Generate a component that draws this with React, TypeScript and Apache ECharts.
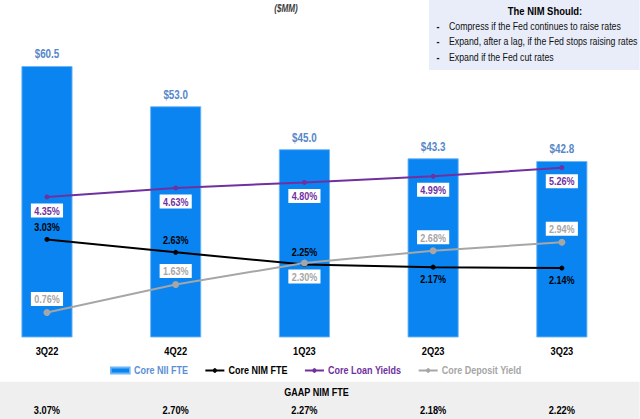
import React, { useEffect, useRef } from "react";
import * as echarts from "echarts";

const categories = ["3Q22", "4Q22", "1Q23", "2Q23", "3Q23"];
const coreNII = [60.5, 53.0, 45.0, 43.3, 42.8];
const coreNIM = [3.03, 2.63, 2.25, 2.17, 2.14];
const loanYields = [4.35, 4.63, 4.8, 4.99, 5.26];
const depositYield = [0.76, 1.63, 2.3, 2.68, 2.94];
const gaapNIM = ["3.07%", "2.70%", "2.27%", "2.18%", "2.22%"];
const nimLabelPos = ["top", "top", "top", "bottom", "bottom"];
const depositLabelPos = ["top", "top", "bottom", "top", "top"];
const nimBullets = [
  "Compress if the Fed continues to raise rates",
  "Expand, after a lag, if the Fed stops raising rates",
  "Expand if the Fed cut rates",
];

// Arial-Narrow look: render in a wider canvas and squeeze horizontally.
const S = 0.82;
const W = 640 / S;
const X = (x: number) => x / S;

const F = "'Liberation Sans', Arial, sans-serif";
const BAR = "#0a84f0";
const PURPLE = "#7030a0";
const GRAY = "#a6a6a6";
const XMIN = -0.3649;
const XMAX = 4.604;
const idx = categories.map((_, i) => i);

export default function App() {
  const ref = useRef<HTMLDivElement>(null);
  useEffect(() => {
    if (!ref.current) return;
    const chart = echarts.init(ref.current, undefined, { renderer: "svg" });
    const boxLabel = (color: string) => ({
      show: true,
      color,
      fontFamily: F,
      fontSize: 11,
      fontWeight: "bold",
      backgroundColor: "#ffffff",
      padding: [2, 4, 1, 4],
      formatter: (p: any) => p.value[1].toFixed(2) + "%",
    });
    const catAxis = (labels: string[], offset: number, margin: number) => ({
      type: "value",
      min: XMIN,
      max: XMAX,
      offset,
      position: "bottom",
      splitLine: { show: false },
      axisLine: { show: false },
      axisTick: { show: false },
      axisLabel: {
        customValues: idx,
        formatter: (v: number) => labels[Math.round(v)],
        color: "#000",
        fontFamily: F,
        fontSize: 11.3,
        fontWeight: "bold",
        margin,
      },
    });
    chart.setOption({
      animation: false,
      textStyle: { fontFamily: F },
      grid: { left: 0, right: 0, top: 15, bottom: 82 },
      xAxis: [catAxis(categories, 0, 9), catAxis(gaapNIM, 60, 8)],
      yAxis: [
        { type: "value", min: 10, max: 70, show: false },
        { type: "value", min: 0, max: 10, show: false },
      ],
      legend: {
        left: X(110),
        top: 365,
        padding: 0,
        itemWidth: X(19),
        itemHeight: 6,
        itemGap: X(16.5),
        textStyle: { fontFamily: F, fontSize: 11, fontWeight: "bold" },
        data: [
          { name: "Core NII FTE", icon: "rect", textStyle: { color: "#5b8fd6" } },
          { name: "Core NIM FTE", textStyle: { color: "#000" } },
          { name: "Core Loan Yields", textStyle: { color: PURPLE } },
          { name: "Core Deposit Yield", textStyle: { color: GRAY } },
        ],
      },
      graphic: [
        { type: "rect", z: -10, shape: { x: 0, y: 381.7, width: W, height: 38 }, style: { fill: "#efefef" } },
        { type: "rect", z: -10, shape: { x: X(429), y: 0, width: X(211), height: 70 }, style: { fill: "#e8edf9" } },
        {
          type: "text", x: X(545), y: 11,
          style: { text: "The NIM Should:", font: `bold 11.5px ${F}`, fill: "#000", align: "center", verticalAlign: "middle" },
        },
        ...nimBullets.flatMap((t, i) => [
          { type: "text", x: X(438), y: 26 + i * 15.5, style: { text: "-", font: `bold 11px ${F}`, fill: "#111", align: "center", verticalAlign: "middle" } },
          { type: "text", x: X(449), y: 26 + i * 15.5, style: { text: t, font: `10.7px ${F}`, fill: "#111", align: "left", verticalAlign: "middle" } },
        ]),
        {
          type: "text", x: X(286), y: 8.5,
          style: { text: "($MM)", font: `italic bold 10px ${F}`, fill: "#404040", align: "center", verticalAlign: "middle" },
        },
        {
          type: "text", x: X(316.5), y: 392,
          style: { text: "GAAP NIM FTE", font: `bold 11px ${F}`, fill: "#000", align: "center", verticalAlign: "middle" },
        },
      ],
      series: [
        {
          name: "Core NII FTE",
          type: "bar",
          data: coreNII.map((v, i) => [i, v]),
          barWidth: X(51),
          itemStyle: { color: BAR, borderColor: "#6cb6f6", borderWidth: 1 },
          label: {
            show: true,
            position: "top",
            distance: 6,
            color: "#5687c9",
            fontFamily: F,
            fontSize: 12,
            fontWeight: "bold",
            formatter: (p: any) => "$" + p.value[1].toFixed(1),
          },
        },
        {
          name: "Core NIM FTE",
          type: "line",
          yAxisIndex: 1,
          data: coreNIM.map((v, i) => ({ value: [i, v], label: { position: nimLabelPos[i] } })),
          symbol: "circle",
          symbolSize: [5 / S, 5],
          lineStyle: { color: "#000", width: 2 },
          itemStyle: { color: "#000" },
          label: {
            show: true,
            color: "#000",
            fontFamily: F,
            fontSize: 11,
            fontWeight: "bold",
            distance: 4,
            formatter: (p: any) => p.value[1].toFixed(2) + "%",
          },
        },
        {
          name: "Core Loan Yields",
          type: "line",
          yAxisIndex: 1,
          data: loanYields.map((v, i) => [i, v]),
          symbol: "circle",
          symbolSize: [5 / S, 5],
          lineStyle: { color: PURPLE, width: 2 },
          itemStyle: { color: PURPLE },
          label: { ...boxLabel(PURPLE), position: "bottom", distance: 4 },
        },
        {
          name: "Core Deposit Yield",
          type: "line",
          yAxisIndex: 1,
          data: depositYield.map((v, i) => ({ value: [i, v], label: { position: depositLabelPos[i] } })),
          symbol: "circle",
          symbolSize: [7 / S, 7],
          lineStyle: { color: GRAY, width: 2 },
          itemStyle: { color: GRAY },
          label: { ...boxLabel(GRAY), distance: 3 },
        },
      ],
    });
    return () => chart.dispose();
  }, []);
  return (
    <div style={{ position: "fixed", left: 0, top: 0, width: 640, height: 419, overflow: "hidden", background: "#fff" }}>
      <div
        ref={ref}
        style={{ width: W, height: 419, transform: `scaleX(${S})`, transformOrigin: "0 0" }}
      />
    </div>
  );
}
